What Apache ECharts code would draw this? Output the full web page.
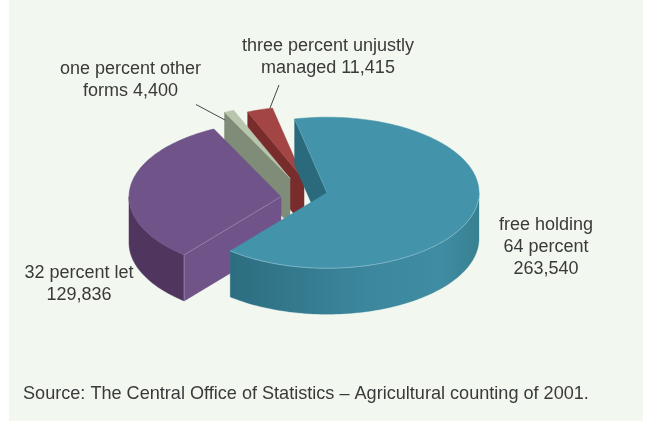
<!DOCTYPE html>
<html><head><meta charset="utf-8">
<style>html,body{margin:0;padding:0;background:#fff}#c{width:646px;height:421px}</style>
<script src="https://cdn.jsdelivr.net/npm/echarts@6/dist/echarts.min.js"></script>
</head><body><div id="c"></div>
<script>
// Data
const categories = ['one percent other forms','three percent unjustly managed','free holding','32 percent let'];
const holdings = [4400, 11415, 263540, 129836];
const labelLines = [
  ['one percent other','forms 4,400'],
  ['three percent unjustly','managed 11,415'],
  ['free holding','64 percent','263,540'],
  ['32 percent let','129,836']
];
const sourceNote = 'Source: The Central Office of Statistics \u2013 Agricultural counting of 2001.';

// Layout & style (pixels)
const RX = 152, RY = 75.5, DEPTH = 46;
const START_DEG = 333.8;           // clockwise from 12 o'clock, first slice start
const apexes = [[290,178.3],[304,180],[327,192.7],[281,196.7]];
const radiusScale = [0.975,0.975,1,1];
const topColors = ['#b8c6ae','#a34545','#4393ab','#6f5389'];
const cutColors = ['#7f8c78','#792c2c','#2a6a7c','#6f5389'];
const drawOrder = [1,0,3,2];
const labelPos = [[130.5,80,'center'],[328,57,'center'],[546,247.5,'center'],[79,284,'center']];
const leaderLines = [[[196,104.5],[225,120]],[[270,108],[279,85]]];
const FONT = '"Liberation Sans", Arimo, Arial, sans-serif';

const total = holdings.reduce((a,b)=>a+b,0);
const spans = holdings.map(v=>v/total*360);
const starts = []; spans.reduce((acc,s,i)=>{starts[i]=acc;return acc+s;},START_DEG);

function pt(i,deg,dy){
  const r=deg*Math.PI/180, k=radiusScale[i];
  return [apexes[i][0]+RX*k*Math.sin(r), apexes[i][1]-RY*k*Math.cos(r)+(dy||0)];
}
function arc(i,a,b,dy){
  const out=[], n=Math.max(4,Math.ceil(Math.abs(b-a)/1.5));
  for(let j=0;j<=n;j++) out.push(pt(i,a+(b-a)*j/n,dy));
  return out;
}
function quadShape(p,fill,stroke,w){
  return {type:'polygon',shape:{points:p},style:{fill:fill,stroke:stroke||fill,lineWidth:w==null?0.5:w}};
}
function sliceShapes(i){
  const a=starts[i], b=a+spans[i], A=apexes[i];
  const kids=[];
  const downA=[A[0],A[1]+DEPTH];
  const s0=pt(i,a);
  if(i===3){
    // purple: rim wall below the arc, cut wall along its start edge
    const rim=arc(i,a,630).concat(arc(i,a,630,DEPTH).reverse());
    kids.push(quadShape(rim,'#50365f'));
    kids.push(quadShape([A,s0,[s0[0],s0[1]+DEPTH],downA],cutColors[i]));
    kids.push({type:'line',shape:{x1:s0[0],y1:s0[1],x2:s0[0],y2:s0[1]+DEPTH},style:{stroke:'#9a86ad',lineWidth:0.8}});
    kids.push(quadShape([A].concat(arc(i,a,b)),topColors[i]));
    kids.push({type:'line',shape:{x1:A[0],y1:A[1],x2:s0[0],y2:s0[1]},style:{stroke:'#9a86ad',lineWidth:0.8}});
  } else if(i===2){
    kids.push(quadShape([s0,A,downA,[s0[0],s0[1]+DEPTH]],cutColors[i]));
    const g=new echarts.graphic.LinearGradient(0,0,1,0,[
      {offset:0,color:'#2d6d80'},{offset:.3,color:'#357b8f'},{offset:.55,color:'#3c879d'},
      {offset:.85,color:'#3f8ca3'},{offset:1,color:'#378090'}]);
    const rimPts=arc(i,450,b).concat(arc(i,450,b,DEPTH).reverse());
    kids.push({type:'polygon',shape:{points:rimPts},style:{fill:g,stroke:'#3a8296',lineWidth:.3}});
    kids.push(quadShape([A].concat(arc(i,a,b)),topColors[i]));
    kids.push({type:'polyline',shape:{points:arc(i,455,b)},style:{fill:'none',stroke:'#8fc0cf',lineWidth:0.7}});
    kids.push({type:'line',shape:{x1:s0[0],y1:s0[1],x2:A[0],y2:A[1]},style:{stroke:'#6faabd',lineWidth:0.5}});
  } else {
    // narrow wedges: the wall on the left cut edge faces the viewer
    kids.push(quadShape([s0,A,downA,[s0[0],s0[1]+DEPTH]],cutColors[i]));
    kids.push(quadShape([A].concat(arc(i,a,b)),topColors[i]));
  }
  return kids;
}

const chart = echarts.init(document.getElementById('c'),null,{renderer:'canvas',width:646,height:421});
const tableRows = categories.map((c,i)=>[c,holdings[i],i]);
const ordered = drawOrder.map(i=>tableRows[i]);

const graphics = [
  {type:'rect',z:-1,shape:{x:9,y:0,width:634,height:421},style:{fill:'#f2f7ef'}},
];
leaderLines.forEach(l=>graphics.push({type:'line',z:5,shape:{x1:l[0][0],y1:l[0][1],x2:l[1][0],y2:l[1][1]},style:{stroke:'#333',lineWidth:0.9}}));
labelLines.forEach((ls,i)=>{
  graphics.push({type:'text',z:6,x:labelPos[i][0],y:labelPos[i][1],style:{
    text:ls.join('\n'),font:'18px '+FONT,fill:'#3a3a3a',align:labelPos[i][2],verticalAlign:'middle',lineHeight:22}});
});
graphics.push({type:'text',z:6,x:23,y:394,style:{text:sourceNote,font:'18.1px '+FONT,fill:'#3a3a3a',align:'left',verticalAlign:'middle'}});

chart.setOption({
  animation:false,
  backgroundColor:'#ffffff',
  dataset:{source:ordered},
  graphic:graphics,
  series:[{
    type:'custom',
    coordinateSystem:'none',
    encode:{itemName:0,value:1},
    renderItem:function(params,api){
      return {type:'group',children:sliceShapes(api.value(2))};
    }
  }]
});
</script></body></html>
